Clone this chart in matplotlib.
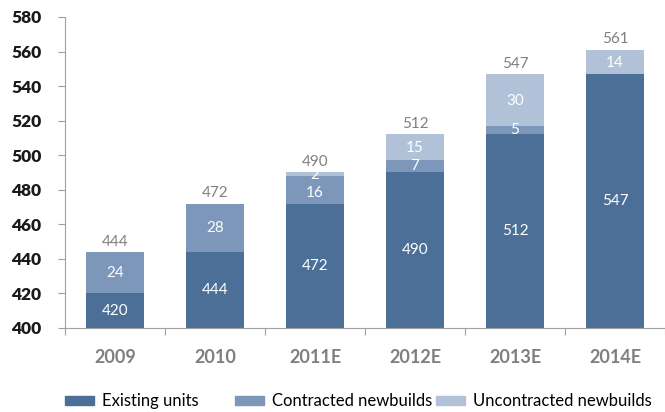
import matplotlib
matplotlib.use("Agg")
import matplotlib.pyplot as plt
from matplotlib.patches import Patch
import numpy as np

plt.rcParams['font.family'] = ['Lato', 'DejaVu Sans']

years = ['2009', '2010', '2011E', '2012E', '2013E', '2014E']
existing = [420, 444, 472, 490, 512, 547]
contracted = [24, 28, 16, 7, 5, 0]
uncontracted = [0, 0, 2, 15, 30, 14]
totals = [444, 472, 490, 512, 547, 561]
series_names = ['Existing units', 'Contracted newbuilds', 'Uncontracted newbuilds']

c_exist = '#4c6f98'
c_contr = '#7c97ba'
c_uncon = '#b1c2d8'

W, H = 665, 412
fig = plt.figure(figsize=(W / 100, H / 100), dpi=100)
ax = fig.add_axes([65 / W, 1 - 328 / H, 1 - 65 / W, (328 - 17) / H])

x = np.arange(len(years))
w = 0.58
ex = np.array(existing)
co = np.array(contracted)
un = np.array(uncontracted)

ax.bar(x, ex, w, color=c_exist, zorder=2)
ax.bar(x, co, w, bottom=ex, color=c_contr, zorder=2)
ax.bar(x, un, w, bottom=ex + co, color=c_uncon, zorder=2)

# segment labels (thin segments get their label nudged so they don't collide)
for i in range(len(years)):
    ax.text(x[i], (400 + ex[i]) / 2, str(ex[i]), ha='center', va='center',
            color='white', fontsize=11, zorder=3)
    if co[i] > 0:
        y = ex[i] + co[i] / 2
        if 0 < un[i] < 5:
            y -= 2
        ax.text(x[i], y, str(co[i]), ha='center', va='center',
                color='white', fontsize=11, zorder=3)
    if un[i] > 0:
        ax.text(x[i], ex[i] + co[i] + un[i] / 2 - 0.5, str(un[i]), ha='center',
                va='center', color='white', fontsize=11, zorder=3)
    ax.text(x[i], totals[i] + 2, str(totals[i]), ha='center', va='bottom',
            color='#808080', fontsize=11, zorder=3)

ax.set_xlim(-0.5, len(years) - 0.5)
ax.set_ylim(400, 580)
ax.set_yticks(np.arange(400, 581, 20))
ax.tick_params(axis='y', labelsize=12.5, colors='#a0a0a0', labelcolor='#1a1a1a',
               length=5, width=0.8, pad=12)
for lbl in ax.get_yticklabels():
    lbl.set_fontweight('heavy')

ax.set_xticks(np.arange(-0.5, len(years), 1.0))
ax.set_xticklabels([])
ax.set_xticks(x, minor=True)
ax.set_xticklabels(years, minor=True)
ax.tick_params(axis='x', which='major', length=5, colors='#a0a0a0', width=0.8)
ax.tick_params(axis='x', which='minor', length=0, pad=15, labelsize=13,
               labelcolor='#7f7f7f')
for lbl in ax.get_xticklabels(minor=True):
    lbl.set_fontweight('bold')

for s in ['top', 'right']:
    ax.spines[s].set_visible(False)
for s in ['left', 'bottom']:
    ax.spines[s].set_color('#a0a0a0')
    ax.spines[s].set_linewidth(0.8)

# one legend entry per series, laid out along the bottom
legend_x = [65, 235, 436]
for name, col, lx in zip(series_names, [c_exist, c_contr, c_uncon], legend_x):
    fig.legend(handles=[Patch(color=col, label=name)], loc='center left',
               bbox_to_anchor=(lx / W, 1 - 401 / H), frameon=False,
               fontsize=12, handlelength=1.75, handleheight=0.45,
               handletextpad=0.45, borderpad=0, borderaxespad=0)

fig.savefig('out.png', dpi=100)
